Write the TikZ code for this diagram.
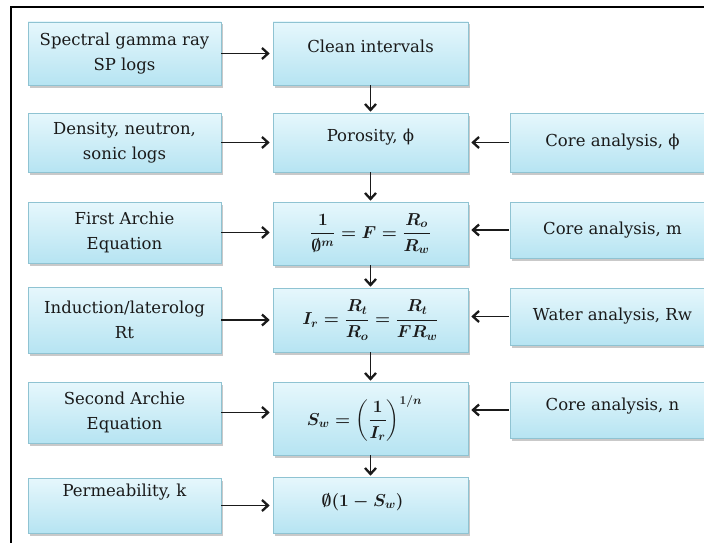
\documentclass[tikz,border=0pt]{standalone}
\usepackage{fontspec}
\setmainfont{DejaVu Serif}
\usepackage{amsmath}
\usetikzlibrary{arrows.meta,shadows}
\definecolor{boxtop}{HTML}{E6F7FC}
\definecolor{boxbot}{HTML}{B6E4F2}
\definecolor{boxline}{HTML}{8FC3D2}
\definecolor{ink}{HTML}{1A1A1A}
\begin{document}
\begin{tikzpicture}[x=1pt,y=-1pt,
  box/.style={draw=boxline, line width=0.6pt, top color=boxtop, bottom color=boxbot,
    drop shadow={shadow xshift=2pt, shadow yshift=-2.5pt, opacity=0.35, fill=black!60},
    inner sep=0pt},
  lbl/.style={font=\fontsize{16.5}{25}\selectfont, align=center, inner sep=0pt, text=ink},
  eq/.style={font=\fontsize{17}{20}\selectfont\boldmath, inner sep=0pt, text=ink},
  arr/.style={draw=ink, line width=1.5pt, -{Straight Barb[length=6pt,width=11pt,line width=2.3pt]}, shorten >=3pt}
]
\useasboundingbox (0,0) rectangle (704,543);
\fill[white] (0,0) rectangle (704,543);
\draw[line width=1.8pt] (11,560) -- (11,7) -- (720,7);

% left column boxes
\node[box, minimum width=193pt, minimum height=63pt] (L1) at (124.5,53.5) {};
\node[box, minimum width=193pt, minimum height=59pt] (L2) at (124.5,142.5) {};
\node[box, minimum width=193pt, minimum height=61pt] (L3) at (124.5,232.5) {};
\node[box, minimum width=193pt, minimum height=66pt] (L4) at (124.5,320) {};
\node[box, minimum width=193pt, minimum height=61pt] (L5) at (124.5,412.5) {};
\node[box, minimum width=193pt, minimum height=55pt] (L6) at (124.5,505.5) {};
% middle column boxes
\node[box, minimum width=195pt, minimum height=63pt] (M1) at (370.5,53.5) {};
\node[box, minimum width=195pt, minimum height=59pt] (M2) at (370.5,142.5) {};
\node[box, minimum width=195pt, minimum height=63pt] (M3) at (370.5,233.5) {};
\node[box, minimum width=195pt, minimum height=64pt] (M4) at (370.5,320) {};
\node[box, minimum width=195pt, minimum height=73pt] (M5) at (370.5,418.5) {};
\node[box, minimum width=195pt, minimum height=56pt] (M6) at (370.5,505) {};
% right column boxes
\node[box, minimum width=205pt, minimum height=59pt] (R2) at (612.5,142.5) {};
\node[box, minimum width=205pt, minimum height=56pt] (R3) at (612.5,230) {};
\node[box, minimum width=205pt, minimum height=57pt] (R4) at (612.5,316.5) {};
\node[box, minimum width=205pt, minimum height=56pt] (R5) at (612.5,410) {};

% texts
\node[lbl] (tL1) at (L1.center) {Spectral gamma ray\\SP logs};
\node[lbl] (tL2) at (L2.center) {Density, neutron,\\sonic logs};
\node[lbl] (tL3) at (L3.center) {First Archie\\Equation};
\node[lbl] (tL4) at (L4.center) {Induction/laterolog\\Rt};
\node[lbl] (tL5) at (L5.center) {Second Archie\\Equation};
\node[lbl] (tL6) at ([yshift=13pt]L6.center) {Permeability, k};
\node[lbl] (tM1) at ([yshift=7pt]M1.center) {Clean intervals};
\node[lbl] (tM2) at ([yshift=5pt]M2.center) {Porosity, ϕ};
\node[eq] (tM3) at (M3.center) {$\displaystyle \frac{1}{\emptyset^{m}} = F = \frac{R_o}{R_w}$};
\node[eq] (tM4) at (M4.center) {$\displaystyle I_r = \frac{R_t}{R_o} = \frac{R_t}{FR_w}$};
\node[eq] (tM5) at ([xshift=-6pt]M5.center) {$\displaystyle S_w = \left(\frac{1}{I_r}\right)^{1/n}$};
\node[eq] (tM6) at ([xshift=-8pt,yshift=3pt]M6.center) {$\emptyset(1 - S_w)$};
\node[lbl] (tR2) at (R2.center) {Core analysis, ϕ};
\node[lbl] (tR3) at (R3.center) {Core analysis, m};
\node[lbl] (tR4) at (R4.center) {Water analysis, Rw};
\node[lbl] (tR5) at ([yshift=4pt]R5.center) {Core analysis, n};

% arrows left -> middle
\foreach \i in {1,...,6} {
  \draw[arr] (L\i.east) -- (L\i.east -| M\i.west);
}
% arrows right -> middle
\foreach \i in {2,...,5} {
  \draw[arr, shorten <=1pt] (R\i.west) -- (R\i.west -| M\i.east);
}
% vertical arrows
\draw[arr, shorten >=1pt] (M1.south) -- (M2.north);
\draw[arr, shorten >=1pt] (M2.south) -- (M3.north);
\draw[arr, shorten >=1pt] (M3.south) -- (M4.north);
\draw[arr, shorten >=1pt] (M4.south) -- (M5.north);
\draw[arr, shorten >=1pt] (M5.south) -- (M6.north);
\end{tikzpicture}
\end{document}
